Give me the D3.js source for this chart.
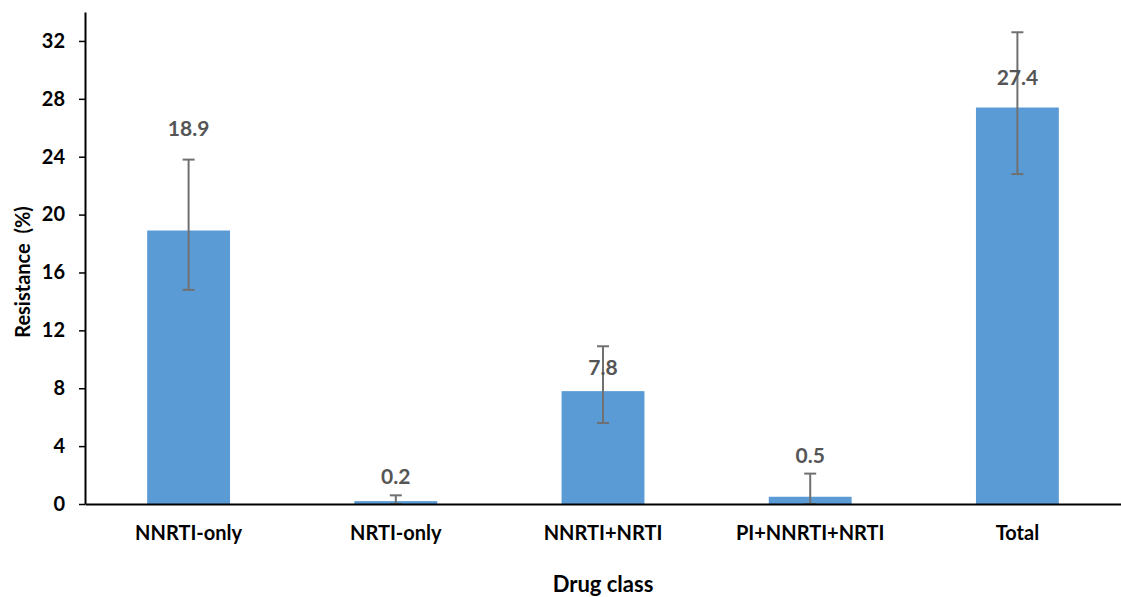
<!DOCTYPE html>
<html>
<head>
<meta charset="utf-8">
<script src="https://cdn.jsdelivr.net/npm/d3@7"></script>
<style>
  body { margin: 0; background: #fff; overflow: hidden; }
  svg { display: block; }
  text { font-family: Lato, "Open Sans", sans-serif; font-weight: bold; }
</style>
</head>
<body>
<div id="chart"></div>
<script>
// data
const categories = ["NNRTI-only", "NRTI-only", "NNRTI+NRTI", "PI+NNRTI+NRTI", "Total"];
const resistance = [18.9, 0.2, 7.8, 0.5, 27.4];
const errLow = [14.8, 0, 5.6, 0, 22.8];
const errHigh = [23.8, 0.6, 10.9, 2.1, 32.6];
const yTicks = [0, 4, 8, 12, 16, 20, 24, 28, 32];

const width = 1121;
const height = 597;
const margin = {top: 12, right: 0, bottom: 93, left: 85};
const innerWidth = width - margin.left - margin.right;
const innerHeight = height - margin.top - margin.bottom;

const svg = d3.select("#chart")
  .append("svg")
    .attr("width", width)
    .attr("height", height);

const innerChart = svg
  .append("g")
    .attr("transform", `translate(${margin.left}, ${margin.top})`);

// scales
const xScale = d3.scaleBand()
  .domain(categories)
  .range([0, innerWidth])
  .paddingInner(0.6)
  .paddingOuter(0.3);

const yScale = d3.scaleLinear()
  .domain([0, 34])
  .range([innerHeight, 0]);

// bars
innerChart.selectAll(".bar")
  .data(categories)
  .join("rect")
    .attr("class", "bar")
    .attr("x", d => xScale(d))
    .attr("y", (d, i) => yScale(resistance[i]))
    .attr("width", xScale.bandwidth())
    .attr("height", (d, i) => innerHeight - yScale(resistance[i]))
    .attr("fill", "#5B9BD5");

// error bars
const capWidth = 12;
const errGroup = innerChart.append("g")
  .attr("stroke", "#707070")
  .attr("stroke-width", 2);

categories.forEach((c, i) => {
  const cx = xScale(c) + xScale.bandwidth() / 2;
  errGroup.append("line")
    .attr("x1", cx).attr("x2", cx)
    .attr("y1", yScale(errLow[i])).attr("y2", yScale(errHigh[i]));
  [errLow[i], errHigh[i]].forEach(v => {
    errGroup.append("line")
      .attr("x1", cx - capWidth / 2).attr("x2", cx + capWidth / 2)
      .attr("y1", yScale(v)).attr("y2", yScale(v));
  });
});

// value labels (Excel placed these by hand, offsets in px above bar top)
const labelOffset = [95, 17, 16, 34, 23];
innerChart.selectAll(".val")
  .data(categories)
  .join("text")
    .attr("class", "val")
    .attr("x", d => xScale(d) + xScale.bandwidth() / 2)
    .attr("y", (d, i) => yScale(resistance[i]) - labelOffset[i])
    .attr("text-anchor", "middle")
    .attr("fill", "#555555")
    .attr("font-size", 21)
    .text((d, i) => resistance[i]);

// axes
const fontStyle = sel => sel
  .attr("font-size", 20)
  .attr("fill", "#000")
  .style("font-family", "Lato, 'Open Sans', sans-serif")
  .style("font-weight", "bold");

const leftAxis = d3.axisLeft(yScale)
  .tickValues(yTicks)
  .tickSize(6)
  .tickPadding(14)
  .tickSizeOuter(0);
const yAxisG = innerChart.append("g").call(leftAxis);
yAxisG.select(".domain").attr("stroke", "#000").attr("stroke-width", 2);
yAxisG.selectAll(".tick line").attr("stroke", "#000").attr("stroke-width", 1.5);
yAxisG.selectAll(".tick text").call(fontStyle);

const bottomAxis = d3.axisBottom(xScale)
  .tickSize(0)
  .tickPadding(22)
  .tickSizeOuter(0);
const xAxisG = innerChart.append("g")
  .attr("transform", `translate(0, ${innerHeight})`)
  .call(bottomAxis);
xAxisG.select(".domain").attr("stroke", "#000").attr("stroke-width", 2);
xAxisG.selectAll(".tick text").call(fontStyle);

// axis titles
svg.append("text")
  .attr("transform", `translate(30, ${margin.top + innerHeight / 2 + 14}) rotate(-90)`)
  .attr("text-anchor", "middle")
  .attr("font-size", 20)
  .attr("fill", "#000")
  .attr("xml:space", "preserve")
  .style("white-space", "pre")
  .text("Resistance  (%)");

svg.append("text")
  .attr("x", margin.left + innerWidth / 2)
  .attr("y", 592)
  .attr("text-anchor", "middle")
  .attr("font-size", 22)
  .attr("fill", "#000")
  .text("Drug class");
</script>
</body>
</html>
